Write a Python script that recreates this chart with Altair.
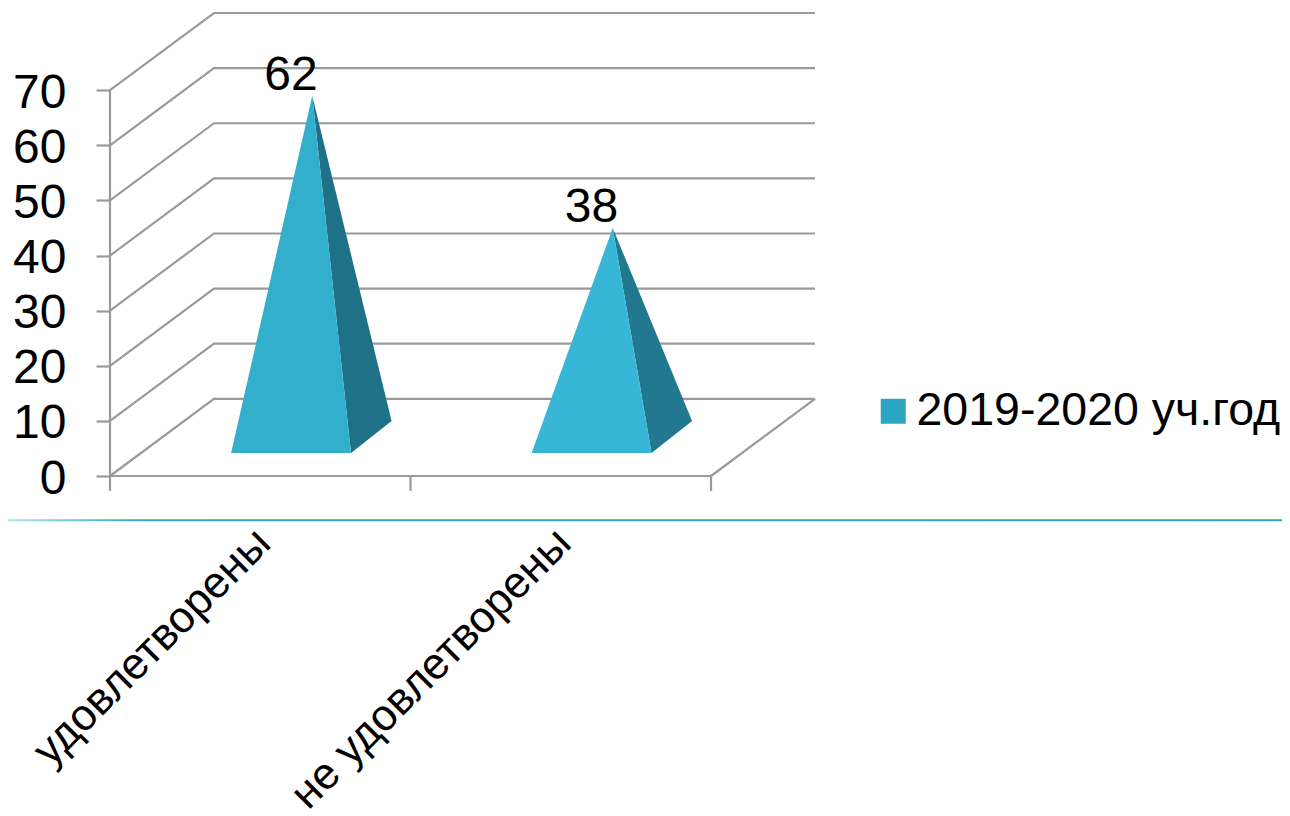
import altair as alt
import pandas as pd

categories = ["удовлетворены", "не удовлетворены"]
values = [62, 38]
series_name = "2019-2020 уч.год"
y_ticks = [0, 10, 20, 30, 40, 50, 60, 70]

# perspective of the 3-D box, in axis units
DEPTH_X, DEPTH_Y = 0.346, 14
SPAN = 2
# pyramid footprint, relative to the category's start
LEFT, FRONT_RIGHT, BACK_RIGHT = 0.403, 0.802, 0.937
APEX_X = 0.673
FRONT_Y, BACK_Y = 4.17, 10

FONT = "Liberation Sans"
GRID = "#9a9a9a"
FACE_COLORS = {
    series_name: "#2ca5c3",
    "front0": "#33afce",
    "side0": "#1f7188",
    "front1": "#38b6d8",
    "side1": "#22798f",
}

x_scale = alt.Scale(domain=[0, SPAN + DEPTH_X], nice=False, zero=False)
y_scale = alt.Scale(domain=[0, 70 + DEPTH_Y], nice=False, zero=False)
colour = alt.Color(
    "face:N",
    scale=alt.Scale(domain=list(FACE_COLORS), range=list(FACE_COLORS.values())),
    legend=alt.Legend(
        values=[series_name], title=None, orient="none", legendX=760, legendY=375,
        symbolType="square", symbolSize=625, symbolStrokeWidth=0, labelFontSize=46.5,
        labelFont=FONT, labelColor="black", labelLimit=500, symbolOffset=0, labelOffset=0,
    ),
)

# back wall, side wall and floor lines
wall = []
for v in y_ticks:
    wall += [
        dict(v=v, x=0, y=v),
        dict(v=v, x=DEPTH_X, y=v + DEPTH_Y),
        dict(v=v, x=SPAN + DEPTH_X, y=v + DEPTH_Y),
    ]
wall += [dict(v=-1, x=SPAN, y=0), dict(v=-1, x=SPAN + DEPTH_X, y=DEPTH_Y)]
line = alt.Chart(pd.DataFrame(wall)).mark_line(color=GRID, strokeWidth=2.2, interpolate="linear").encode(
    x=alt.X(
        "x:Q", scale=x_scale, title=None,
        axis=alt.Axis(
            values=[0.5, 1.5], domain=False, ticks=False, grid=False, labelAngle=-45,
            labelExpr=f"datum.value < 1 ? '{categories[0]}' : '{categories[1]}'",
            labelFontSize=44, labelFont=FONT, labelColor="black", labelPadding=60, labelOffset=3,
            labelOverlap=False, labelBound=False, labelLimit=600, labelAlign="right",
            labelBaseline="middle",
        ),
    ),
    y=alt.Y(
        "y:Q", scale=y_scale, title=None,
        axis=alt.Axis(
            values=y_ticks, domain=False, ticks=True, tickSize=14, tickWidth=2.2, tickColor=GRID,
            grid=False, labelFontSize=48, labelFont=FONT, labelColor="black", labelPadding=30,
            labelBound=False, labelFlush=False, labelOffset=3,
        ),
    ),
    detail="v:N",
)

# front axis lines and ticks
value_axis = alt.Chart(pd.DataFrame({"x": [0], "y": [0], "y2": [70]})).mark_rule(color=GRID, strokeWidth=2.2).encode(
    x=alt.X("x:Q", scale=x_scale), y=alt.Y("y:Q", scale=y_scale), y2="y2:Q"
)
cat_axis = alt.Chart(pd.DataFrame({"x": [0], "x2": [SPAN], "y": [0]})).mark_rule(color=GRID, strokeWidth=2.2).encode(
    x=alt.X("x:Q", scale=x_scale), x2="x2:Q", y=alt.Y("y:Q", scale=y_scale)
)
cat_ticks = alt.Chart(pd.DataFrame({"x": [0, 1, 2], "y": [0, 0, 0], "y2": [-2.7, -2.7, -2.7]})).mark_rule(
    color=GRID, strokeWidth=2.2, clip=False
).encode(x=alt.X("x:Q", scale=x_scale), y=alt.Y("y:Q", scale=y_scale), y2="y2:Q")

# pyramids
faces = []
for i, v in enumerate(values):
    top = v + DEPTH_Y / 2
    ax, lx, fx, bx = i + APEX_X, i + LEFT, i + FRONT_RIGHT, i + BACK_RIGHT
    faces += [
        dict(face=f"side{i}", x=ax, y=top, y2=top),
        dict(face=f"side{i}", x=fx, y=top + (BACK_Y - top) * (fx - ax) / (bx - ax), y2=FRONT_Y),
        dict(face=f"side{i}", x=bx, y=BACK_Y, y2=BACK_Y),
        dict(face=f"front{i}", x=lx, y=FRONT_Y, y2=FRONT_Y),
        dict(face=f"front{i}", x=ax, y=top, y2=FRONT_Y),
        dict(face=f"front{i}", x=fx, y=FRONT_Y, y2=FRONT_Y),
    ]
faces.append(dict(face=series_name, x=None, y=None, y2=None))
pyramids = alt.Chart(pd.DataFrame(faces)).mark_area(interpolate="linear", opacity=1).encode(
    x=alt.X("x:Q", scale=x_scale),
    y=alt.Y("y:Q", scale=y_scale, stack=None),
    y2="y2:Q",
    color=colour,
)

# value labels
labels = alt.Chart(pd.DataFrame({
    "x": [i + 0.602 for i in range(len(values))],
    "y": [v + DEPTH_Y / 2 for v in values],
    "t": [str(v) for v in values],
})).mark_text(font=FONT, fontSize=48, color="black", baseline="alphabetic", dy=-6).encode(
    x=alt.X("x:Q", scale=x_scale), y=alt.Y("y:Q", scale=y_scale), text="t:N"
)

# divider under the chart
divider = alt.Chart(pd.DataFrame({"x": [-0.34], "x2": [3.90], "y": [-7.85], "y2": [-8.2]})).mark_rect(
    clip=False,
    color=alt.LinearGradient(
        gradient="linear", x1=0, x2=1, y1=0, y2=0,
        stops=[
            alt.GradientStop(offset=0, color="#b5e1ec"),
            alt.GradientStop(offset=0.1, color="#33a9c6"),
            alt.GradientStop(offset=1, color="#2ea5c2"),
        ],
    ),
).encode(x=alt.X("x:Q", scale=x_scale), x2="x2:Q", y=alt.Y("y:Q", scale=y_scale), y2="y2:Q")

chart = alt.layer(line, value_axis, cat_axis, cat_ticks, divider, pyramids, labels).properties(
    width=705,
    height=463,
    autosize=alt.AutoSizeParams(type="none"),
    padding={"left": 102, "top": 5, "right": 467, "bottom": 360},
).configure_view(stroke=None)

chart.save("out.html", embed_options={"renderer": "svg", "actions": False})
